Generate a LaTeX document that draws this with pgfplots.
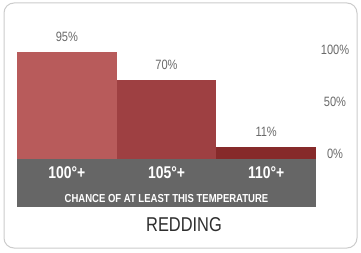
\documentclass[border=0pt]{standalone}
\usepackage{fontspec}
\setmainfont{Liberation Sans}[FakeStretch=0.82]
\usepackage{pgfplots}
\pgfplotsset{compat=1.18}
\definecolor{barA}{HTML}{B85B5B}
\definecolor{barB}{HTML}{9E4042}
\definecolor{barC}{HTML}{862A2A}
\definecolor{band}{HTML}{666666}
\definecolor{lbl}{HTML}{6A6A6A}
\definecolor{ttl}{HTML}{2E2E2E}
\begin{document}
\begin{tikzpicture}[x=1pt,y=1pt]
\useasboundingbox (0,0) rectangle (361,252);
\fill[white] (0,0) rectangle (361,252);
\draw[rounded corners=10pt, draw=black!20, line width=1pt, fill=white] (4,4) rectangle (357,249);
\fill[band] (17,45) rectangle (316,93);
\begin{axis}[
  at={(17pt,93pt)}, anchor=south west,
  scale only axis, width=299pt, height=113pt,
  xmin=-0.5, xmax=2.5, ymin=0, ymax=100,
  clip=false,
  axis line style={draw=none}, tick style={draw=none},
  major tick length=0pt,
  ytick=\empty,
  xtick={0,1,2}, xticklabels={100°+,105°+,110°+},
  xticklabel style={text=white, font=\fontsize{17}{20}\selectfont\bfseries, anchor=center, yshift=-14pt, inner sep=0pt},
  ybar, bar width=1, bar shift=0pt,
  /pgf/number format/assume math mode=true,
  nodes near coords={\pgfmathprintnumber{\pgfplotspointmeta}\%},
  every node near coord/.append style={text=lbl, font=\fontsize{13.5}{16}\selectfont, anchor=south, yshift=10pt, inner sep=0pt},
]
\addplot[fill=barA, draw=none] coordinates {(0,95)};
\addplot[fill=barB, draw=none] coordinates {(1,70)};
\addplot[fill=barC, draw=none] coordinates {(2,11)};
\end{axis}
\begin{axis}[
  at={(335pt,98pt)}, anchor=south west,
  scale only axis, width=10pt, height=104pt,
  xmin=0, xmax=1, ymin=0, ymax=100,
  axis line style={draw=none}, tick style={draw=none},
  major tick length=0pt,
  xtick=\empty,
  ytick={0,50,100}, yticklabels={0\%,50\%,100\%},
  yticklabel style={text=lbl, font=\fontsize{13.5}{16}\selectfont, anchor=center, inner sep=0pt},
]
\end{axis}
\node[text=white, font=\fontsize{11.6}{14}\selectfont\bfseries, inner sep=0pt] at (166.5,53.5) {CHANCE OF AT LEAST THIS TEMPERATURE};
\node[text=ttl, font=\fontsize{20}{24}\selectfont, inner sep=0pt] at (184,27) {REDDING};
\end{tikzpicture}
\end{document}
